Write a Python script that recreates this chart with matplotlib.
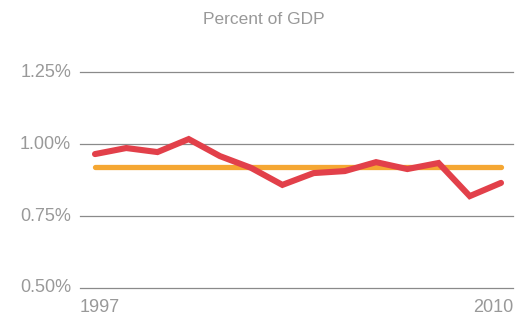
import matplotlib; matplotlib.use('Agg')

import matplotlib.pyplot as plt

years = list(range(1997, 2011))
actual = [0.965, 0.986, 0.972, 1.017, 0.958, 0.917, 0.858, 0.899, 0.906, 0.937, 0.913, 0.934, 0.819, 0.865]
average = [0.92] * len(years)
yticks = [0.50, 0.75, 1.00, 1.25]
ytick_labels = ["0.50%", "0.75%", "1.00%", "1.25%"]

plt.rcParams['font.family'] = ['Liberation Sans', 'DejaVu Sans']
grey = '#999999'

fig = plt.figure(figsize=(5.27, 3.18), dpi=100)
ax = fig.add_axes([80/527, 1 - 288/318, 433/527, 216/318])

for y in yticks:
    ax.axhline(y, color='#8a8a8a', lw=0.9, zorder=1, clip_on=False)

ax.plot(years, average, color='#f5a733', lw=3.8, solid_capstyle='round', zorder=2)
ax.plot(years, actual, color='#e2404a', lw=4.4, solid_capstyle='round',
        solid_joinstyle='miter', zorder=3)

ax.set_xlim(1997 - 15/31.23, 2010 + 12/31.23)
ax.set_ylim(0.5, 1.25)
ax.set_xticks([])
ax.set_yticks([])
for s in ax.spines.values():
    s.set_visible(False)

for y, lab in zip(yticks, ytick_labels):
    ax.text(-9/433, (y - 0.5)/0.75, lab, transform=ax.transAxes, ha='right', va='center',
            fontsize=13, color=grey)

ax.text(0, -19/216, "1997", transform=ax.transAxes, ha='left', va='center',
        fontsize=13, color=grey)
ax.text(1, -19/216, "2010", transform=ax.transAxes, ha='right', va='center',
        fontsize=13, color=grey)

fig.text(0.5, 1 - 19/318, "Percent of GDP", ha='center', va='center',
         fontsize=12.5, color=grey)

plt.savefig("out.png", dpi=100)
